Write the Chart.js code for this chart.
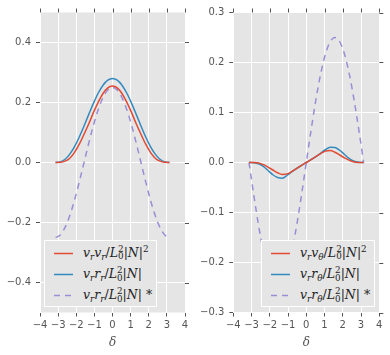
<!DOCTYPE html>
<html>
<head>
<meta charset="utf-8">
<script src="https://cdn.jsdelivr.net/npm/chart.js@4.4.1/dist/chart.umd.min.js"></script>
<style>
  html,body{margin:0;padding:0;background:#fff;}
  #wrap{position:relative;width:390px;height:355px;overflow:hidden;}
  .cv{position:absolute;top:0;}
  .leg{position:absolute;background:#e5e5e5;border:1px solid #ffffff;box-sizing:border-box;}
  .row{position:absolute;left:0;height:20px;line-height:20px;white-space:nowrap;}
  .row svg{position:absolute;top:9px;}
  .txt{position:absolute;top:0;font-family:"DejaVu Serif","Liberation Serif",serif;font-size:12.5px;color:#222;}
  .txt i{font-style:italic;}
  .txt sub,.txt sup{font-size:0.7em;line-height:0;}
  .txt sub{vertical-align:-0.3em;}
  .txt sup{vertical-align:0.55em;}
  .ov{margin-left:-0.636em;}
  .up{font-style:normal;}
</style>
</head>
<body>
<div id="wrap">
  <canvas id="c1" class="cv" width="195" height="355" style="left:0;width:195px;height:355px"></canvas>
  <canvas id="c2" class="cv" width="195" height="355" style="left:195px;width:195px;height:355px"></canvas>

  <div class="leg" style="left:44px;top:240px;width:113px;height:67px">
    <div class="row" style="top:1.7px">
      <svg style="left:9px" width="19" height="3"><line x1="0" y1="1.5" x2="19" y2="1.5" stroke="#E24A33" stroke-width="1.5"/></svg>
      <span class="txt" style="left:38px"><i>v</i><sub><i>r</i></sub><i>v</i><sub><i>r</i></sub>/<i>L</i><sup>2</sup><sub class="ov">0</sub>|<i>N</i>|<sup>2</sup></span>
    </div>
    <div class="row" style="top:23.3px">
      <svg style="left:9px" width="19" height="3"><line x1="0" y1="1.5" x2="19" y2="1.5" stroke="#348ABD" stroke-width="1.5"/></svg>
      <span class="txt" style="left:38px"><i>v</i><sub><i>r</i></sub><i>r</i><sub><i>r</i></sub>/<i>L</i><sup>2</sup><sub class="ov">0</sub>|<i>N</i>|</span>
    </div>
    <div class="row" style="top:44.3px">
      <svg style="left:9px" width="19" height="3"><line x1="0" y1="1.5" x2="19" y2="1.5" stroke="#988ED5" stroke-width="1.5" stroke-dasharray="6,5"/></svg>
      <span class="txt" style="left:38px"><i>v</i><sub><i>r</i></sub><i>r</i><sub><i>r</i></sub>/<i>L</i><sup>2</sup><sub class="ov">0</sub>|<i>N</i>| <span class="up">*</span></span>
    </div>
  </div>

  <div class="leg" style="left:261px;top:240px;width:114px;height:67px">
    <div class="row" style="top:1.7px">
      <svg style="left:8.5px" width="19" height="3"><line x1="0" y1="1.5" x2="19" y2="1.5" stroke="#E24A33" stroke-width="1.5"/></svg>
      <span class="txt" style="left:38px"><i>v</i><sub><i>r</i></sub><i>v</i><sub><i>θ</i></sub>/<i>L</i><sup>2</sup><sub class="ov">0</sub>|<i>N</i>|<sup>2</sup></span>
    </div>
    <div class="row" style="top:23.3px">
      <svg style="left:8.5px" width="19" height="3"><line x1="0" y1="1.5" x2="19" y2="1.5" stroke="#348ABD" stroke-width="1.5"/></svg>
      <span class="txt" style="left:38px"><i>v</i><sub><i>r</i></sub><i>r</i><sub><i>θ</i></sub>/<i>L</i><sup>2</sup><sub class="ov">0</sub>|<i>N</i>|</span>
    </div>
    <div class="row" style="top:44.3px">
      <svg style="left:8.5px" width="19" height="3"><line x1="0" y1="1.5" x2="19" y2="1.5" stroke="#988ED5" stroke-width="1.5" stroke-dasharray="6,5"/></svg>
      <span class="txt" style="left:38px"><i>v</i><sub><i>r</i></sub><i>r</i><sub><i>θ</i></sub>/<i>L</i><sup>2</sup><sub class="ov">0</sub>|<i>N</i>| <span class="up">*</span></span>
    </div>
  </div>
</div>

<script>
// ---- data ----
const delta = [-3.1416,-2.8798,-2.6180,-2.3562,-2.0944,-1.8326,-1.5708,-1.3090,-1.0472,-0.7854,-0.5236,-0.2618,0,
               0.2618,0.5236,0.7854,1.0472,1.3090,1.5708,1.8326,2.0944,2.3562,2.6180,2.8798,3.1416];

const vrvr     = [0,0.0006,0.0044,0.0142,0.034,0.061,0.094,0.129,0.167,0.201,0.230,0.249,0.255,
                  0.249,0.230,0.201,0.167,0.129,0.094,0.061,0.034,0.0142,0.0044,0.0006,0];
const vrrr     = [0,0.0021,0.0109,0.0278,0.0529,0.0851,0.1218,0.1604,0.198,0.2316,0.2576,0.2744,0.28,
                  0.2744,0.2576,0.2316,0.198,0.1604,0.1218,0.0851,0.0529,0.0278,0.0109,0.0021,0];
const vrrrStar = [-0.25,-0.2415,-0.2165,-0.1768,-0.125,-0.0647,0,0.0647,0.125,0.1768,0.2165,0.2415,0.25,
                  0.2415,0.2165,0.1768,0.125,0.0647,0,-0.0647,-0.125,-0.1768,-0.2165,-0.2415,-0.25];

const vrvt     = [0,-0.0002,-0.0012,-0.0042,-0.0092,-0.0150,-0.0205,-0.0238,-0.0228,-0.0178,-0.0118,-0.0058,0,
                  0.0058,0.0118,0.0178,0.0228,0.0238,0.0205,0.0150,0.0092,0.0042,0.0012,0.0002,0];
const vrrt     = [0,-0.0004,-0.0025,-0.0078,-0.0160,-0.0245,-0.0300,-0.0315,-0.0255,-0.0185,-0.0118,-0.0058,0,
                  0.0058,0.0118,0.0185,0.0255,0.0305,0.0300,0.0245,0.0160,0.0078,0.0025,0.0004,0];
const vrrtStar = [0,-0.0647,-0.125,-0.1768,-0.2165,-0.2415,-0.25,-0.2415,-0.2165,-0.1768,-0.125,-0.0647,0,
                  0.0647,0.125,0.1768,0.2165,0.2415,0.25,0.2415,0.2165,0.1768,0.125,0.0647,0];

const xTicks      = [-4,-3,-2,-1,0,1,2,3,4];
const yTicksLeft  = [-0.4,-0.2,0.0,0.2,0.4];
const yTicksRight = [-0.3,-0.2,-0.1,0.0,0.1,0.2,0.3];
const xTitle = 'δ';

// ---- helpers ----
const RED = '#E24A33', BLUE = '#348ABD', PURPLE = '#988ED5';
const pts = ys => delta.map((x, i) => ({x: x, y: ys[i]}));
const fmtMinus = s => s.replace('-', '\u2212');

const bgPlugin = {
  id: 'bg',
  beforeDraw(chart) {
    const {ctx, chartArea: a} = chart;
    ctx.save();
    ctx.fillStyle = '#E5E5E5';
    ctx.fillRect(a.left, a.top, a.right - a.left, a.bottom - a.top);
    ctx.restore();
  },
  afterDraw(chart) {
    const {ctx, chartArea: a, scales} = chart;
    ctx.save();
    ctx.strokeStyle = '#555555';
    ctx.lineWidth = 1;
    ctx.beginPath();
    scales.x.ticks.forEach(t => {
      const px = Math.round(scales.x.getPixelForValue(t.value)) + 0.5;
      ctx.moveTo(px, a.top); ctx.lineTo(px, a.top - 4);
    });
    scales.y.ticks.forEach(t => {
      const py = Math.round(scales.y.getPixelForValue(t.value)) + 0.5;
      ctx.moveTo(a.right, py); ctx.lineTo(a.right + 4, py);
    });
    ctx.stroke();
    ctx.restore();
  }
};

function line(data, color, dashed) {
  return {
    data: pts(data), borderColor: color, backgroundColor: color,
    borderWidth: 1.5, pointRadius: 0, fill: false,
    cubicInterpolationMode: 'monotone',
    borderDash: dashed ? [6, 5] : []
  };
}

function makeChart(id, datasets, ymin, ymax, yTicks, yAxisW, padRight) {
  return new Chart(document.getElementById(id), {
    type: 'line',
    data: {datasets: datasets},
    plugins: [bgPlugin],
    options: {
      responsive: false, animation: false, devicePixelRatio: 1,
      layout: {padding: {top: 12.5, right: padRight, left: 0, bottom: 0}},
      plugins: {legend: {display: false}, tooltip: {enabled: false}},
      scales: {
        x: {
          type: 'linear', min: -4, max: 4,
          afterBuildTicks: s => { s.ticks = xTicks.map(v => ({value: v})); },
          afterFit: s => { s.height = 42.5; },
          border: {display: false},
          grid: {color: '#FFFFFF', lineWidth: 1, drawTicks: true, tickLength: 4, tickColor: '#555555'},
          ticks: {color: '#555555', padding: 3, font: {family: 'DejaVu Sans', size: 10},
                  callback: v => fmtMinus(String(v)), maxRotation: 0, autoSkip: false},
          title: {display: true, text: xTitle, color: '#555555',
                  font: {family: 'DejaVu Serif', size: 12, style: 'italic'}, padding: {top: 0, bottom: 5}}
        },
        y: {
          type: 'linear', min: ymin, max: ymax,
          afterBuildTicks: s => { s.ticks = yTicks.map(v => ({value: v})); },
          afterFit: s => { s.width = yAxisW; },
          border: {display: false},
          grid: {color: '#FFFFFF', lineWidth: 1, drawTicks: true, tickLength: 4, tickColor: '#555555'},
          ticks: {color: '#555555', padding: 5, font: {family: 'DejaVu Sans', size: 10},
                  callback: v => fmtMinus(v.toFixed(1)), autoSkip: false}
        }
      }
    }
  });
}

makeChart('c1', [line(vrvr, RED), line(vrrr, BLUE), line(vrrrStar, PURPLE, true)],
          -0.5, 0.5, yTicksLeft, 40, 10);
makeChart('c2', [line(vrvt, RED), line(vrrt, BLUE), line(vrrtStar, PURPLE, true)],
          -0.3, 0.3, yTicksRight, 38.3, 10.7);
</script>
</body>
</html>
